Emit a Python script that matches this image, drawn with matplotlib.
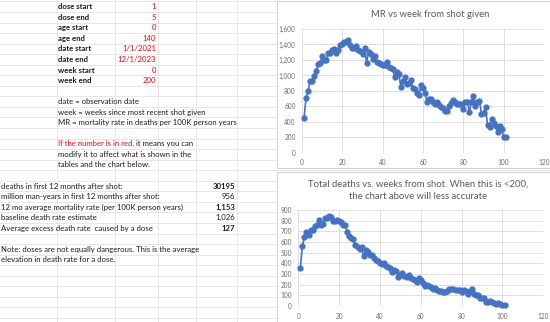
import matplotlib
matplotlib.use("Agg")
import matplotlib.pyplot as plt
from matplotlib.patches import Rectangle
from matplotlib.ticker import FuncFormatter, MultipleLocator

plt.rcParams['font.family'] = ['Lato', 'DejaVu Sans']

# ---------------- data ----------------
weeks = list(range(1, 102))
mr_values = [451, 710, 804, 925, 925, 993, 1062, 1144, 1165, 1247,
             1195, 1195, 1290, 1290, 1329, 1342, 1290, 1329, 1389, 1402,
             1428, 1428, 1458, 1389, 1350, 1359, 1385, 1329, 1320, 1277,
             1359, 1165, 1299, 1273, 1208, 1251, 1170, 1165, 1144, 1131,
             1135, 1170, 1109, 1101, 1088, 976, 1045, 1019, 856, 929,
             976, 894, 899, 937, 834, 821, 770, 752, 873, 834,
             778, 658, 701, 701, 662, 632, 658, 615, 598, 580,
             546, 546, 611, 641, 679, 658, 636, 636, 636, 563,
             658, 658, 529, 658, 740, 606, 662, 675, 503, 520,
             589, 361, 340, 439, 383, 348, 275, 353, 305, 211,
             206]
death_values = [357, 565, 644, 698, 669, 710, 713, 748, 758, 805,
                764, 773, 824, 821, 846, 837, 795, 795, 805, 795,
                783, 761, 758, 698, 660, 641, 625, 568, 556, 537,
                552, 467, 521, 505, 474, 480, 451, 432, 420, 407,
                395, 401, 376, 369, 357, 322, 341, 325, 271, 294,
                306, 278, 271, 290, 259, 253, 240, 221, 259, 243,
                218, 183, 196, 186, 174, 164, 167, 152, 145, 142,
                133, 133, 145, 155, 164, 161, 152, 152, 148, 133,
                152, 145, 114, 142, 158, 114, 104, 101, 73, 73,
                73, 41, 38, 51, 38, 32, 19, 28, 22, 9,
                6]

param_labels = ["dose start", "dose end", "age start", "age end",
                "date start", "date end", "week start", "week end"]
param_values = ["1", "5", "0", "140", "1/1/2021", "12/1/2023", "0", "200"]

notes = ["date = observation date",
         "week = weeks since most recent shot given",
         "MR = mortality rate in deaths per 100K person years"]

stat_labels = ["deaths in first 12 months after shot:",
               "million man-years in first 12 months after shot:",
               "12 mo average mortality rate (per 100K person years)",
               "baseline death rate estimate",
               "Average excess death rate  caused by a dose"]
stat_values = ["30195", "956", "1,153", "1,026", "127"]
stat_bold = [True, False, True, False, True]

mr_title = "MR vs week from shot given"
deaths_title = ["Total deaths vs. weeks from shot. When this is <200,",
                "the chart above will less accurate"]

# ---------------- figure ----------------
W, H = 550, 322
fig = plt.figure(figsize=(W / 100, H / 100), dpi=100)
fig.patch.set_facecolor('white')

bg = fig.add_axes([0, 0, 1, 1])
bg.set_xlim(0, W)
bg.set_ylim(H, 0)
bg.axis('off')

grid_c = '#E3E3E3'
row_h = 10.55
row0 = 6.7
for k in range(-1, 32):
    y = row0 + k * row_h - row_h / 2
    bg.plot([0, W], [y, y], color=grid_c, lw=0.6, zorder=1)
for x in [57, 115, 158, 196, 237]:
    bg.plot([x, x], [0, H], color=grid_c, lw=0.6, zorder=1)

fs = 5.6
txt_c = '#1a1a1a'
red = '#FF0000'


def ry(k):
    return row0 + k * row_h


for i, (lab, val) in enumerate(zip(param_labels, param_values)):
    bg.text(58, ry(i), lab, fontsize=fs, fontweight='bold', color=txt_c,
            va='center', ha='left', zorder=3)
    bg.text(156, ry(i), val, fontsize=fs, color=red, va='center', ha='right', zorder=3)

for i, t in enumerate(notes):
    bg.text(58, ry(9 + i), t, fontsize=fs, color=txt_c, va='center', ha='left', zorder=3)

t1 = bg.text(58, ry(13), "If the number is in red,", fontsize=fs, color=red,
             va='center', ha='left', zorder=3)
bg.annotate(" it means you can", xy=(1, 0.5), xycoords=t1, fontsize=fs,
            color=txt_c, va='center', ha='left', zorder=3)
bg.text(58, ry(14), "modify it to affect what is shown in the", fontsize=fs,
        color=txt_c, va='center', ha='left', zorder=3)
bg.text(58, ry(15), "tables and the chart below.", fontsize=fs,
        color=txt_c, va='center', ha='left', zorder=3)

for i, (lab, val, b) in enumerate(zip(stat_labels, stat_values, stat_bold)):
    bg.text(1, ry(17 + i), lab, fontsize=fs, color=txt_c, va='center', ha='left', zorder=3)
    bg.text(235, ry(17 + i), val, fontsize=fs, color=txt_c, va='center', ha='right',
            fontweight='bold' if b else 'normal', zorder=3)

bg.text(1, ry(23), "Note: doses are not equally dangerous. This is the average",
        fontsize=fs, color=txt_c, va='center', ha='left', zorder=3)
bg.text(1, ry(24), "elevation in death rate for a dose.",
        fontsize=fs, color=txt_c, va='center', ha='left', zorder=3)

# chart boxes
for (x0, y0, x1, y1) in [(277, 0.5, 549.5, 168), (277, 172, 549.5, 321.5)]:
    bg.add_patch(Rectangle((x0, y0), x1 - x0, y1 - y0, facecolor='white',
                           edgecolor='#D0D0D0', lw=0.7, zorder=4))

tfs = 6.8
bg.text(430, 14.5, mr_title, fontsize=tfs, color='#595959', ha='center', va='center', zorder=5)
bg.text(418, 184, deaths_title[0], fontsize=tfs, color='#595959', ha='center', va='center', zorder=5)
bg.text(418, 196, deaths_title[1], fontsize=tfs, color='#595959', ha='center', va='center', zorder=5)

blue = '#4472C4'
gcol = '#D9D9D9'
tick_c = '#6b6b6b'


def style(ax, ymax, ystep, fmt):
    ax.set_xlim(0, 120)
    ax.set_ylim(0, ymax)
    ax.xaxis.set_major_locator(MultipleLocator(20))
    ax.yaxis.set_major_locator(MultipleLocator(ystep))
    ax.yaxis.set_major_formatter(FuncFormatter(fmt))
    ax.grid(True, color=gcol, lw=0.6)
    ax.set_axisbelow(True)
    for s in ax.spines.values():
        s.set_visible(False)
    ax.tick_params(length=0, labelsize=4.7, colors=tick_c)
    ax.set_facecolor('none')


ax1 = fig.add_axes([302 / W, (H - 153) / H, 242 / W, 124 / H])
ax1.plot(weeks, mr_values, color=blue, lw=1.2, marker='o', ms=3.5, zorder=3, clip_on=False)
style(ax1, 1600, 200, lambda v, p: f"{int(v):,}")
ax1.tick_params(axis='x', pad=4)
ax1.tick_params(axis='y', pad=4.5)

ax2 = fig.add_axes([298.3 / W, (H - 306) / H, 245 / W, 96 / H])
ax2.plot(weeks, death_values, color=blue, lw=1.2, marker='o', ms=3.5, zorder=3, clip_on=False)
style(ax2, 900, 100, lambda v, p: f"{int(v)}")
ax2.tick_params(axis='x', pad=5)
ax2.tick_params(axis='y', pad=4.5)

fig.savefig('out.png', dpi=100, facecolor='white')
